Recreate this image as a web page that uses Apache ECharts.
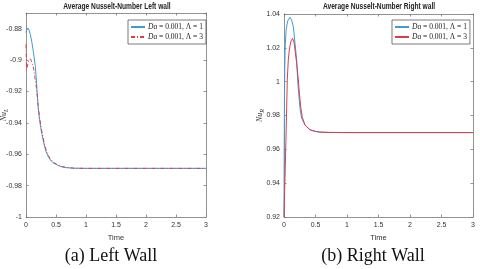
<!DOCTYPE html>
<html><head><meta charset="utf-8">
<script src="https://cdn.jsdelivr.net/npm/echarts@6/dist/echarts.min.js"></script>
<style>html,body{margin:0;padding:0;background:#fff}#c{width:480px;height:269px}</style>
</head><body><div id="c"></div>
<script>
// ---- data ----
const leftBlue = [[0,-0.8826],[0.01,-0.8805],[0.028,-0.8794],[0.045,-0.8802],[0.072,-0.8837],[0.095,-0.888],[0.117,-0.8933],[0.135,-0.898],[0.155,-0.904],[0.17,-0.911],[0.183,-0.919],[0.2,-0.929],[0.222,-0.937],[0.245,-0.943],[0.267,-0.9476],[0.3,-0.9535],[0.333,-0.9583],[0.37,-0.9615],[0.405,-0.9636],[0.45,-0.9654],[0.517,-0.9668],[0.58,-0.9679],[0.66,-0.9685],[0.8,-0.9689],[1,-0.969],[1.5,-0.969],[2,-0.969],[2.5,-0.969],[3,-0.969]];
const leftRed = [[0,-0.890],[0.008,-0.906],[0.02,-0.9045],[0.04,-0.901],[0.072,-0.8992],[0.09,-0.9005],[0.11,-0.903],[0.13,-0.906],[0.145,-0.9104],[0.16,-0.914],[0.178,-0.9188],[0.2,-0.928],[0.225,-0.936],[0.25,-0.9425],[0.272,-0.947],[0.305,-0.953],[0.34,-0.958],[0.375,-0.961],[0.41,-0.9632],[0.46,-0.9652],[0.52,-0.9666],[0.6,-0.9678],[0.68,-0.9685],[0.8,-0.9689],[1,-0.969],[1.5,-0.969],[2,-0.969],[2.5,-0.969],[3,-0.969]];
const rightBlue = [[0,0.92],[0.003,0.96],[0.007,0.99],[0.012,1.008],[0.02,1.022],[0.035,1.031],[0.06,1.036],[0.095,1.038],[0.12,1.0365],[0.148,1.0325],[0.175,1.0227],[0.201,1.0128],[0.217,1.001],[0.235,0.992],[0.255,0.984],[0.28,0.9785],[0.333,0.9744],[0.413,0.9715],[0.5,0.9706],[0.57,0.9702],[0.7,0.97],[1,0.9699],[1.5,0.9699],[2,0.9699],[2.5,0.9699],[3,0.9699]];
const rightRed = [[0,0.92],[0.005,0.928],[0.01,0.935],[0.02,0.949],[0.03,0.9645],[0.042,0.984],[0.052,1.001],[0.068,1.0128],[0.084,1.0187],[0.11,1.024],[0.138,1.0256],[0.16,1.023],[0.175,1.0187],[0.201,1.0109],[0.227,1.001],[0.245,0.993],[0.265,0.985],[0.29,0.979],[0.333,0.9744],[0.413,0.9715],[0.5,0.9706],[0.57,0.9702],[0.7,0.97],[1,0.9699],[1.5,0.9699],[2,0.9699],[2.5,0.9699],[3,0.9699]];
const seriesLabels = {L1:'{i|Da} = 0.001, Λ = 1', L3:'{i|Da} = 0.001, Λ = 3', R1:'{i|Da} = 0.001, Λ = 1', R3:'{i|Da} = 0.001, Λ = 3'};
const titles = ['Average Nusselt-Number Left wall','Average Nusselt-Number Right wall'];
const captions = ['(a) Left Wall','(b) Right Wall'];
const xTitle = 'Time';
const leftY = {min:-1, max:-0.87, interval:0.02};
const rightY = {min:0.92, max:1.04, interval:0.02};
const xRange = {min:0, max:3, interval:0.5};

// ---- chart ----
const BLUE = '#3f9bd2', RED = '#dc3d4b', AX = '#777';
const FONT = 'Liberation Sans, Arial, sans-serif';
const tickFont = {fontSize:7, color:'#333', fontFamily:FONT};
function xAx(grid, pos){
  return {type:'value', gridIndex:grid, position:pos, min:xRange.min, max:xRange.max, interval:xRange.interval,
    name: pos==='bottom'? xTitle : '', nameLocation:'middle', nameGap:14,
    nameTextStyle:{fontSize:7.5, color:'#333', fontFamily:FONT},
    axisLine:{show:true, onZero:false, lineStyle:{color:AX, width:0.8}},
    axisTick:{show:true, inside:true, length:2.5, lineStyle:{color:AX, width:0.8}},
    axisLabel:{show:pos==='bottom', margin:5, ...tickFont, showMaxLabel:true, showMinLabel:true},
    splitLine:{show:false}};
}
function yAx(grid, pos, r, sub){
  return {type:'value', gridIndex:grid, position:pos, min:r.min, max:r.max, interval:r.interval,
    name: pos==='left' ? '{n|Nu}{s|'+sub+'}' : '', nameLocation:'middle', nameRotate:90, nameGap: grid===0?17:19,
    nameMoveOverlap:false,
    nameTextStyle:{rich:{n:{fontSize:8, fontStyle:'italic', fontFamily:'Liberation Serif', color:'#333'}, s:{fontSize:6, fontStyle:'italic', fontFamily:'Liberation Serif', color:'#333', verticalAlign:'bottom', padding:[4,0,0,0]}}},
    axisLine:{show:true, onZero:false, lineStyle:{color:AX, width:0.8}},
    axisTick:{show:true, inside:true, length:2.5, lineStyle:{color:AX, width:0.8}},
    axisLabel:{show:pos==='left', margin:4, ...tickFont, showMaxLabel: grid===1},
    splitLine:{show:false}};
}
function legend(left, names){
  return {left:left, top:20, orient:'vertical', data:names, itemWidth:14, itemHeight:8, itemGap:2,
    padding:[3,3,3,2], borderColor:'#444', borderWidth:0.7, backgroundColor:'#fff', borderRadius:0,
    itemStyle:{color:'rgba(0,0,0,0)', borderWidth:0, opacity:0},
    formatter: n => seriesLabels[n],
    textStyle:{fontFamily:'Liberation Serif', fontSize:7.5, color:'#222', padding:[0,0,0,-2],
      rich:{i:{fontFamily:'Liberation Serif', fontStyle:'italic', fontSize:7.5, color:'#222'}}}};
}
function line(name, data, color, xi, yi, type){
  return {name, type:'line', data, xAxisIndex:xi, yAxisIndex:yi, symbol:'none', showSymbol:false,
    lineStyle:{color, width:1, type:type||'solid'}, itemStyle:{color}, animation:false, z:3};
}
const chart = echarts.init(document.getElementById('c'), null, {renderer:'canvas'});
chart.setOption({
  animation:false,
  backgroundColor:'#fff',
  grid:[{left:26, right:274, top:13, bottom:52, outerBoundsMode:'none', containLabel:false},
        {left:284, right:7, top:14, bottom:52, outerBoundsMode:'none', containLabel:false}],
  xAxis:[xAx(0,'bottom'), xAx(0,'top'), xAx(1,'bottom'), xAx(1,'top')],
  yAxis:[yAx(0,'left',leftY,'L'), yAx(0,'right',leftY,'L'), yAx(1,'left',rightY,'R'), yAx(1,'right',rightY,'R')],
  legend:[legend(128,['L1','L3']), legend(392,['R1','R3'])],
  series:[
    line('L1', leftBlue, BLUE, 0, 0),
    line('L3', leftRed, RED, 0, 0, [4,2,1,2]),
    line('R1', rightBlue, BLUE, 2, 2),
    line('R3', rightRed, RED, 2, 2)
  ],
  graphic:[
    {type:'text', x:117, y:7, scaleX:0.78, style:{text:titles[0], align:'center', verticalAlign:'middle', fontSize:8.5, fontWeight:'bold', fontFamily:FONT, fill:'#222'}},
    {type:'text', x:379, y:7, scaleX:0.78, style:{text:titles[1], align:'center', verticalAlign:'middle', fontSize:8.5, fontWeight:'bold', fontFamily:FONT, fill:'#222'}},
    {type:'text', x:111, y:256, style:{text:captions[0], align:'center', verticalAlign:'middle', fontSize:18, fontFamily:'Liberation Serif', fill:'#111'}},
    {type:'text', x:373, y:256, style:{text:captions[1], align:'center', verticalAlign:'middle', fontSize:18, fontFamily:'Liberation Serif', fill:'#111'}}
  ]
});
</script></body></html>
